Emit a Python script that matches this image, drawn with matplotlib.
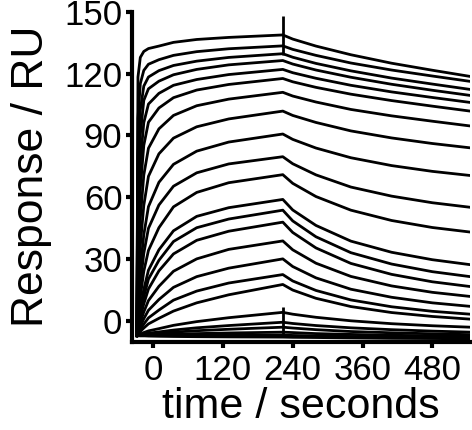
import matplotlib
matplotlib.use("Agg")
import matplotlib.pyplot as plt

plt.rcParams["font.family"] = ["Liberation Sans", "DejaVu Sans"]

# --- 読み取り値 (RU) ---
# 会合相の時間点 (s)
t_assoc = [-28, -26, -22, -16, -8, 10, 35, 75, 130, 223]
# 解離相の時間点 (s)
t_dissoc = [223, 240, 280, 340, 410, 480, 545]

assoc = [
    [-7, 118.3, 127.8, 130.7, 132.1, 133.3, 135.1, 136.5, 137.5, 138.7],
    [-7, 98.3, 115.1, 121.5, 124.5, 126.7, 128.8, 130.6, 132.0, 133.4],
    [-7, 80.4, 102.3, 113.9, 118.3, 121.4, 123.9, 126.0, 127.8, 129.6],
    [-7, 65.0, 90.3, 107.0, 112.6, 116.3, 119.4, 122.0, 124.2, 126.3],
    [-7, 49.8, 76.9, 96.2, 105.2, 110.4, 114.3, 117.1, 119.5, 122.0],
    [-7, 36.6, 64.0, 85.2, 96.4, 103.3, 108.3, 112.0, 114.7, 117.6],
    [-7, 24.8, 49.6, 70.8, 83.8, 93.2, 99.7, 104.4, 107.6, 110.9],
    [-7, 15.8, 36.5, 56.1, 70.2, 81.1, 88.7, 94.2, 98.0, 101.8],
    [-7, 8.6, 25.2, 41.9, 55.5, 67.3, 76.0, 82.4, 86.8, 90.7],
    [-7, 4.3, 18.1, 32.9, 45.0, 56.3, 65.4, 71.9, 76.2, 79.7],
    [-7, 1.6, 11.7, 24.2, 34.3, 45.3, 55.4, 62.4, 67.1, 71.0],
    [-7, -1.1, 6.2, 15.4, 24.7, 34.6, 43.8, 50.8, 55.0, 59.0],
    [-7, -2.1, 3.9, 11.8, 20.4, 29.5, 38.6, 45.3, 49.5, 53.8],
    [-7, -3.2, 1.8, 8.4, 15.6, 24.4, 32.6, 39.2, 43.6, 48.0],
    [-7, -4.2, -0.6, 4.5, 10.0, 16.9, 24.2, 30.2, 34.8, 38.9],
    [-7, -5.1, -2.5, 1.2, 5.3, 10.5, 16.4, 21.6, 25.7, 30.2],
    [-7, -5.7, -4.0, -1.4, 1.6, 5.4, 10.2, 14.6, 18.5, 22.6],
    [-7, -6.1, -5.0, -3.3, -1.3, 1.4, 4.9, 8.9, 12.8, 17.8],
    [-7, -6.7, -6.2, -5.5, -4.7, -3.6, -2.0, -0.2, 1.7, 4.3],
    [-7, -6.8, -6.6, -6.3, -5.8, -5.2, -4.3, -3.2, -2.1, -0.5],
    [-7, -6.9, -6.8, -6.6, -6.3, -5.9, -5.3, -4.6, -3.9, -2.9],
    [-7, -7.0, -6.9, -6.8, -6.7, -6.5, -6.3, -6.0, -5.7, -5.3],
    [-7, -7.0, -7.0, -7.0, -6.9, -6.9, -6.9, -6.8, -6.8, -6.7],
    [-7, -7.0, -7.1, -7.1, -7.2, -7.3, -7.4, -7.5, -7.6, -7.7],
]

dissoc = [
    [138.7, 136.7, 133.3, 129.1, 125.0, 121.6, 118.6],
    [133.4, 131.7, 128.8, 125.1, 121.7, 118.8, 116.2],
    [129.6, 127.9, 124.9, 121.3, 117.8, 114.9, 112.3],
    [126.3, 124.6, 121.7, 118.2, 114.8, 111.9, 109.4],
    [122.0, 120.4, 117.7, 114.3, 111.1, 108.4, 106.0],
    [117.6, 116.0, 113.3, 110.0, 106.9, 104.2, 101.8],
    [110.9, 109.1, 106.2, 102.6, 99.5, 96.9, 94.6],
    [101.8, 99.7, 96.3, 92.2, 88.8, 86.1, 84.0],
    [90.7, 88.1, 83.9, 79.2, 75.4, 72.6, 70.6],
    [79.7, 76.3, 70.9, 65.0, 60.6, 57.4, 55.2],
    [71.0, 66.8, 60.4, 53.8, 48.8, 45.4, 43.2],
    [59.0, 53.9, 46.4, 38.8, 33.4, 29.8, 27.4],
    [53.8, 48.6, 40.9, 33.2, 27.7, 24.0, 21.6],
    [48.0, 43.0, 35.5, 28.0, 22.7, 19.1, 16.8],
    [38.9, 34.6, 28.1, 21.7, 17.1, 14.0, 12.0],
    [30.2, 26.5, 21.0, 15.5, 11.6, 8.9, 7.2],
    [22.6, 19.5, 14.9, 10.3, 7.0, 4.8, 3.4],
    [17.8, 15.1, 11.1, 7.1, 4.2, 2.3, 1.0],
    [4.3, 3.4, 1.9, 0.2, -1.2, -2.2, -2.9],
    [-0.5, -1.1, -2.1, -3.2, -4.1, -4.8, -5.3],
    [-2.9, -3.3, -4.1, -5.0, -5.6, -6.1, -6.5],
    [-5.3, -5.5, -6.0, -6.4, -6.8, -7.1, -7.3],
    [-6.7, -6.9, -7.1, -7.4, -7.7, -7.9, -8.0],
    [-7.7, -7.8, -7.9, -8.1, -8.3, -8.4, -8.5],
]

# 注入終了時のスパイク (縦線)
spike_t = [224, 224]
spike_lo = [129, -6]
spike_hi = [148, 7]

x_ticks = [0, 120, 240, 360, 480]
y_ticks = [0, 30, 60, 90, 120, 150]

fig = plt.figure(figsize=(4.72, 4.30), dpi=100)
ax = fig.add_axes([0.280, 0.205, 0.716, 0.768])

for a, d in zip(assoc, dissoc):
    ax.plot(t_assoc + t_dissoc, a + d, color="black", linewidth=2.0,
            solid_joinstyle="round")
ax.vlines(spike_t, spike_lo, spike_hi, color="black", linewidth=2.0)

ax.set_xlim(-36, 545)
ax.set_ylim(-10, 150)
ax.set_xticks(x_ticks)
ax.set_yticks(y_ticks)

for side in ["top", "right"]:
    ax.spines[side].set_visible(False)
for side in ["left", "bottom"]:
    ax.spines[side].set_linewidth(3.0)
ax.tick_params(direction="out", length=4, width=3, labelsize=25)
ax.tick_params(axis="x", pad=5)
ax.tick_params(axis="y", pad=3)

ax.set_xlabel("time / seconds", fontsize=31, labelpad=0)
ax.set_ylabel("Response / RU", fontsize=32, labelpad=9)

fig.savefig("out.png", dpi=100)
